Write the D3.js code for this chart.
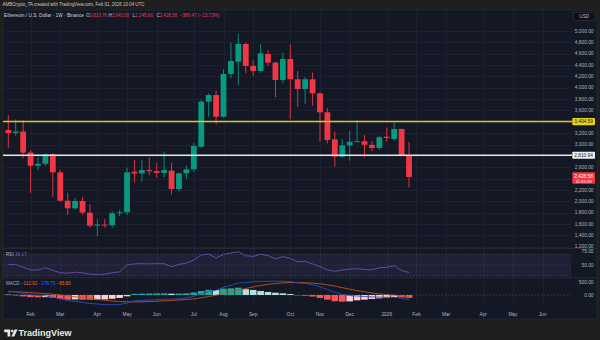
<!DOCTYPE html>
<html>
<head>
<meta charset="utf-8">
<script src="https://cdn.jsdelivr.net/npm/d3@7"></script>
<style>
  html, body { margin: 0; padding: 0; background: #1e1e1e; }
  svg { display: block; }
  text { font-family: "Liberation Sans", Arial, sans-serif; }
</style>
</head>
<body>
<svg id="chart" width="600" height="340"></svg>
<script>
// ETH/USD weekly candles (week starting Monday)
const weekOpen  = [3256,3203,3228,2858,2627,2660,2825,2510,2010,1877,2005,1800,1570,1590,1578,1790,1806,2521,2490,2551,2530,2500,2540,2216,2493,2563,2960,3755,3872,3490,4243,4460,4771,4384,4295,4595,4443,4137,4507,4149,3978,4149,3902,3568,3092,2786,2986,3050,3058,2995,2939,3138,3097,3274,2813.76];
const weekHigh  = [3520,3440,3432,2903,2786,2845,2850,2550,2151,2055,2080,1948,1685,1685,1830,1850,2597,2727,2727,2774,2680,2875,2680,2500,2633,3032,3790,3902,3950,4325,4795,4947,4795,4490,4766,4660,4460,4618,4766,4300,4185,4267,3915,3640,3226,3092,3238,3440,3168,3062,3156,3297,3385,3280,3045.00];
const weekLow   = [2933,3150,2757,2151,2551,2620,2080,1990,1758,1850,1760,1535,1385,1535,1535,1740,1758,2328,2345,2460,2415,2420,2122,2175,2387,2521,2944,3490,3356,3475,4167,4049,4255,4207,4266,4384,3832,4078,3444,3667,3715,3680,3050,3020,2610,2770,2716,3040,2775,2880,2904,3050,3068,2790,2245.60];
const weekClose = [3203,3228,2858,2627,2660,2825,2510,2010,1877,2005,1800,1570,1590,1578,1790,1806,2510,2490,2551,2530,2500,2551,2216,2493,2563,2974,3755,3872,3490,4243,4472,4771,4384,4295,4607,4443,4137,4507,4149,3978,4149,3902,3568,3080,2786,2986,3050,3058,2995,2939,3127,3115,3274,2815.05,2428.58];

// RSI (14)
const rsiValues = [51,51,45.7,40.7,40.7,45,39.8,35.5,34.7,36.6,35.5,33,32.3,32.9,35.5,37.3,50.3,52,52.5,52,52.5,52.5,47,51,53.5,59.3,68.7,70.5,63,69.8,72.2,74.7,67.2,66,70,67.5,61.2,65.6,62,56,56.8,52,47,40.7,38.2,40.7,42.3,43,41.5,41,45,45.7,48.8,39.4,36.17];

// MACD (12, 26, 9)
const macdLine   = [145,130,57,10,-15,-30,-85,-150,-215,-245,-290,-330,-355,-380,-385,-370,-318,-227,-213,-200,-183,-164,-163,-140,-114,-50,47,145,190,305,382,480,485,520,535,540,545,540,528,480,453,408,322,216,105,28,-22,-38,-60,-75,-85,-89,-88,-130,-178.75];
const signalLine = [130,125,112,95,75,55,30,0,-35,-70,-105,-140,-175,-205,-235,-255,-268,-272,-268,-258,-245,-230,-215,-198,-178,-150,-110,-60,-5,55,120,190,255,320,375,420,455,475,488,490,483,468,440,400,350,290,228,172,124,82,46,16,-8,-35,-65.83];
const macdHist   = [15,5,-55,-85,-90,-85,-115,-150,-180,-175,-185,-190,-180,-175,-150,-115,-50,45,55,58,62,66,52,58,64,100,157,205,195,250,262,290,230,200,160,120,90,65,40,-10,-30,-60,-118,-184,-245,-262,-250,-210,-184,-157,-131,-105,-80,-95,-112.92];

// Horizontal levels
const levelValues = [3404.59, 2810.94];

// Axis ticks
const priceTicks = [1200,1400,1600,1800,2000,2200,2400,2600,2800,3000,3200,3400,3600,3800,4000,4200,4400,4600,4800,5000];
const rsiTicks = [75, 50];
const macdTicks = [500, 0];
const monthTickDates = ["2025-02-03","2025-03-03","2025-04-07","2025-05-05","2025-06-02","2025-07-07","2025-08-04","2025-09-01","2025-10-06","2025-11-03","2025-12-01","2026-01-05","2026-02-02","2026-03-02","2026-04-06","2026-05-04","2026-06-01"];
const monthTickLabels = ["Feb","Mar","Apr","May","Jun","Jul","Aug","Sep","Oct","Nov","Dec","2026","Feb","Mar","Apr","May","Jun"];

const headerText = "AMBCrypto_TA created with TradingView.com, Feb 01, 2026 10:04 UTC";
const symbolText = "Ethereum / U.S. Dollar · 1W · Binance";
const countdownText = "11:55:09";

// ---- layout ----
const plotL = 3, plotR = 571, axisR = 597;
const mainTop = 10, mainBot = 248;
const rsiTop = 249, rsiBot = 278;
const macdTop = 278, macdBot = 306;
const chartBot = 319;

const UP = "#089981", DOWN = "#F23645";
const fmt2 = d3.format(",.2f");

const svg = d3.select("#chart");
svg.append("rect").attr("width", 600).attr("height", 340).attr("fill", "#1e1e1e");
svg.append("rect").attr("x", plotL).attr("y", mainTop).attr("width", axisR - plotL).attr("height", chartBot - mainTop)
  .attr("fill", "#141824").attr("stroke", "#2a2e39").attr("stroke-width", 0.6);

const weekDates = d3.utcMonday.range(new Date(Date.UTC(2025, 0, 13)), new Date(Date.UTC(2026, 0, 27)));
const x = d3.scaleUtc()
  .domain([new Date(Date.UTC(2025, 0, 13)), new Date(Date.UTC(2026, 5, 1))])
  .range([8.3, 542.6]);
const y = d3.scaleLinear().domain([1200, 5000]).range([246.7, 31]);
const yRsi = d3.scaleLinear().domain([50, 75]).range([265, 251.6]);
const yMacd = d3.scaleLinear().domain([0, 500]).range([295, 282.3]);

const defs = svg.append("defs");
function clip(id, y0, y1) {
  defs.append("clipPath").attr("id", id).append("rect")
    .attr("x", plotL).attr("y", y0).attr("width", plotR - plotL).attr("height", y1 - y0);
}
clip("clipMain", mainTop, mainBot);
clip("clipRsi", rsiTop, rsiBot);
clip("clipMacd", macdTop, macdBot);

// ---- grid ----
const tickDates = monthTickDates.map(d => new Date(d + "T00:00:00Z"));
const grid = svg.append("g").attr("stroke", "#1c2030").attr("stroke-width", 1);
grid.selectAll("line.v").data(tickDates).join("line")
  .attr("x1", d => Math.round(x(d)) + 0.5).attr("x2", d => Math.round(x(d)) + 0.5)
  .attr("y1", mainTop).attr("y2", macdBot);
grid.selectAll("line.h").data(priceTicks).join("line")
  .attr("x1", plotL).attr("x2", plotR)
  .attr("y1", d => Math.round(y(d)) + 0.5).attr("y2", d => Math.round(y(d)) + 0.5);

// pane separators
svg.append("g").attr("stroke", "#2a2e39").attr("stroke-width", 0.8)
  .selectAll("line").data([mainBot + 0.5, rsiBot - 0.3]).join("line")
  .attr("x1", plotL).attr("x2", axisR).attr("y1", d => d).attr("y2", d => d);

// ---- candles ----
const candles = weekDates.map((d, i) => ({ d, o: weekOpen[i], h: weekHigh[i], l: weekLow[i], c: weekClose[i] }));
const gMain = svg.append("g").attr("clip-path", "url(#clipMain)");
const bodyW = 5.8;
gMain.selectAll("line.wick").data(candles).join("line")
  .attr("x1", d => x(d.d)).attr("x2", d => x(d.d))
  .attr("y1", d => y(d.h)).attr("y2", d => y(d.l))
  .attr("stroke", d => d.c >= d.o ? UP : DOWN).attr("stroke-width", 0.9);
gMain.selectAll("rect.body").data(candles).join("rect")
  .attr("x", d => x(d.d) - bodyW / 2).attr("width", bodyW)
  .attr("y", d => y(Math.max(d.o, d.c)))
  .attr("height", d => Math.max(0.9, Math.abs(y(d.o) - y(d.c))))
  .attr("fill", d => d.c >= d.o ? UP : DOWN);

// ---- horizontal levels ----
const levelStyles = [{ stroke: "#d9c81e", fill: "#e8d51f" }, { stroke: "#e6e6e6", fill: "#f0f0f0" }];
svg.append("g").selectAll("line").data(levelValues).join("line")
  .attr("x1", plotL).attr("x2", plotR + 1)
  .attr("y1", d => y(d)).attr("y2", d => y(d))
  .attr("stroke", (d, i) => levelStyles[i].stroke).attr("stroke-width", 1.6);

// ---- price axis labels ----
const lastClose = weekClose[weekClose.length - 1];
const reserved = levelValues.concat([lastClose]).map(v => y(v));
const axisText = svg.append("g").attr("font-size", 4.8).attr("fill", "#b2b5be").attr("text-anchor", "end");
axisText.selectAll("text.p").data(priceTicks.filter(t => reserved.every(r => Math.abs(y(t) - r) > 6))).join("text")
  .attr("x", 593.5).attr("y", d => y(d) + 1.7).text(d => fmt2(d));
axisText.selectAll("text.r").data(rsiTicks).join("text")
  .attr("x", 593.5).attr("y", d => yRsi(d) + 1.7).text(d => fmt2(d));
axisText.selectAll("text.m").data(macdTicks).join("text")
  .attr("x", 593.5).attr("y", d => yMacd(d) + 1.7).text(d => fmt2(d));

// level value tags
const tags = svg.append("g");
levelValues.forEach((v, i) => {
  tags.append("rect").attr("x", 572.3).attr("y", y(v) - 3.6).attr("width", 22.7).attr("height", 7.2)
    .attr("rx", 0.8).attr("fill", levelStyles[i].fill);
  tags.append("text").attr("x", 583.6).attr("y", y(v) + 1.7).attr("text-anchor", "middle")
    .attr("font-size", 4.8).attr("fill", "#131722").text(fmt2(v));
});
// last price tag
tags.append("rect").attr("x", 572.3).attr("y", y(lastClose) - 4.6).attr("width", 22.7).attr("height", 11.4)
  .attr("rx", 0.8).attr("fill", DOWN);
tags.append("text").attr("x", 583.6).attr("y", y(lastClose) + 1.4).attr("text-anchor", "middle")
  .attr("font-size", 4.8).attr("fill", "#ffffff").text(fmt2(lastClose));
tags.append("text").attr("x", 583.6).attr("y", y(lastClose) + 5.9).attr("text-anchor", "middle")
  .attr("font-size", 4.2).attr("fill", "#ffe3e5").text(countdownText);

// currency box
svg.append("rect").attr("x", 573.3).attr("y", 12.4).attr("width", 21.7).attr("height", 8.2)
  .attr("rx", 1).attr("fill", "#0e1018").attr("stroke", "#3a3e4a").attr("stroke-width", 0.5);
svg.append("text").attr("x", 584.2).attr("y", 18.2).attr("text-anchor", "middle")
  .attr("font-size", 4.6).attr("fill", "#b2b5be").text("USD");

// ---- RSI pane ----
const gRsi = svg.append("g").attr("clip-path", "url(#clipRsi)");
gRsi.append("rect").attr("x", plotL).attr("width", plotR - plotL)
  .attr("y", yRsi(70)).attr("height", yRsi(30) - yRsi(70)).attr("fill", "rgba(126,87,194,0.12)");
gRsi.selectAll("line.band").data([70, 50, 30]).join("line")
  .attr("x1", plotL).attr("x2", plotR).attr("y1", d => yRsi(d)).attr("y2", d => yRsi(d))
  .attr("stroke", "#5d606b").attr("stroke-width", 0.6).attr("stroke-dasharray", "1.6,1.6")
  .attr("opacity", d => d === 50 ? 0.6 : 0.9);
gRsi.append("path").datum(rsiValues)
  .attr("fill", "none").attr("stroke", "#6b4fae").attr("stroke-width", 0.9)
  .attr("d", d3.line().x((d, i) => x(weekDates[i])).y(d => yRsi(d)));

// ---- MACD pane ----
const gMacd = svg.append("g").attr("clip-path", "url(#clipMacd)");
gMacd.append("line").attr("x1", plotL).attr("x2", plotR).attr("y1", yMacd(0)).attr("y2", yMacd(0))
  .attr("stroke", "#5d606b").attr("stroke-width", 0.5).attr("stroke-dasharray", "1.6,1.6");
function histColor(v, i) {
  const prev = i > 0 ? macdHist[i - 1] : v;
  if (v >= 0) return v > prev ? "#26A69A" : "#B2DFDB";
  return v < prev ? "#FF5252" : "#FFCDD2";
}
const histW = 6.6;
gMacd.selectAll("rect.hist").data(macdHist).join("rect")
  .attr("x", (d, i) => x(weekDates[i]) - histW / 2).attr("width", histW)
  .attr("y", d => Math.min(yMacd(d), yMacd(0)))
  .attr("height", d => Math.max(0.4, Math.abs(yMacd(d) - yMacd(0))))
  .attr("fill", (d, i) => histColor(d, i));
const macdPath = d3.line().x((d, i) => x(weekDates[i])).y(d => yMacd(d));
gMacd.append("path").datum(signalLine).attr("fill", "none").attr("stroke", "#b8561e").attr("stroke-width", 0.9).attr("d", macdPath);
gMacd.append("path").datum(macdLine).attr("fill", "none").attr("stroke", "#2a4cc4").attr("stroke-width", 0.9).attr("d", macdPath);

// ---- time axis ----
svg.append("g").attr("font-size", 4.8).attr("fill", "#b2b5be").attr("text-anchor", "middle")
  .selectAll("text").data(tickDates).join("text")
  .attr("x", d => x(d)).attr("y", 315.5).text((d, i) => monthTickLabels[i]);

// ---- legends ----
svg.append("text").attr("x", 2.5).attr("y", 6.4).attr("font-size", 4.9).attr("fill", "#c9c9c9")
  .attr("textLength", 142).attr("lengthAdjust", "spacingAndGlyphs").text(headerText);

const leg = svg.append("g").attr("font-size", 4.9);
leg.append("text").attr("x", 4).attr("y", 16.8).attr("fill", "#d1d4dc")
  .attr("textLength", 80).attr("lengthAdjust", "spacingAndGlyphs").text(symbolText);
const ohlc = [
  ["O", weekOpen[54], 86.2], ["H", weekHigh[54], 108.4], ["L", weekLow[54], 132.4], ["C", weekClose[54], 156.4]
];
ohlc.forEach(([k, v, px]) => {
  const t = leg.append("text").attr("x", px).attr("y", 16.8)
    .attr("textLength", 20.6).attr("lengthAdjust", "spacingAndGlyphs");
  t.append("tspan").attr("fill", "#d1d4dc").text(k);
  t.append("tspan").attr("fill", DOWN).text(fmt2(v));
});
const change = weekClose[54] - weekClose[53];
leg.append("text").attr("x", 179.5).attr("y", 16.8).attr("fill", DOWN)
  .attr("textLength", 40).attr("lengthAdjust", "spacingAndGlyphs")
  .text(fmt2(change).replace("-", "−") + " (" + d3.format(".2f")(change / weekClose[53] * 100).replace("-", "−") + "%)");

const rsiLeg = svg.append("text").attr("x", 6).attr("y", 256.4).attr("font-size", 4.6);
rsiLeg.append("tspan").attr("fill", "#b2b5be").text("RSI ");
rsiLeg.append("tspan").attr("fill", "#7E57C2").text(d3.format(".2f")(rsiValues[54]));

const macdLeg = svg.append("text").attr("x", 6).attr("y", 285).attr("font-size", 4.6);
macdLeg.append("tspan").attr("fill", "#b2b5be").text("MACD ");
[[macdHist[54], "#FF5252"], [macdLine[54], "#2962FF"], [signalLine[54], "#FF6D00"]].forEach(([v, c]) => {
  macdLeg.append("tspan").attr("fill", c).text(" " + d3.format(".2f")(v).replace("-", "−") + " ");
});

// ---- footer logo ----
const logo = svg.append("g").attr("fill", "#e8e8e8");
logo.append("path").attr("d", "M4.2 329.6 h6 v6.9 h-2.7 v-4.3 h-3.3 z");
logo.append("circle").attr("cx", 12.2).attr("cy", 331).attr("r", 1.35);
logo.append("path").attr("d", "M14.6 329.6 h2.9 l-3.2 6.9 h-2.9 z");
svg.append("text").attr("x", 18.6).attr("y", 336.4).attr("font-size", 9).attr("font-weight", 600)
  .attr("fill", "#e8e8e8").text("TradingView");
</script>
</body>
</html>
